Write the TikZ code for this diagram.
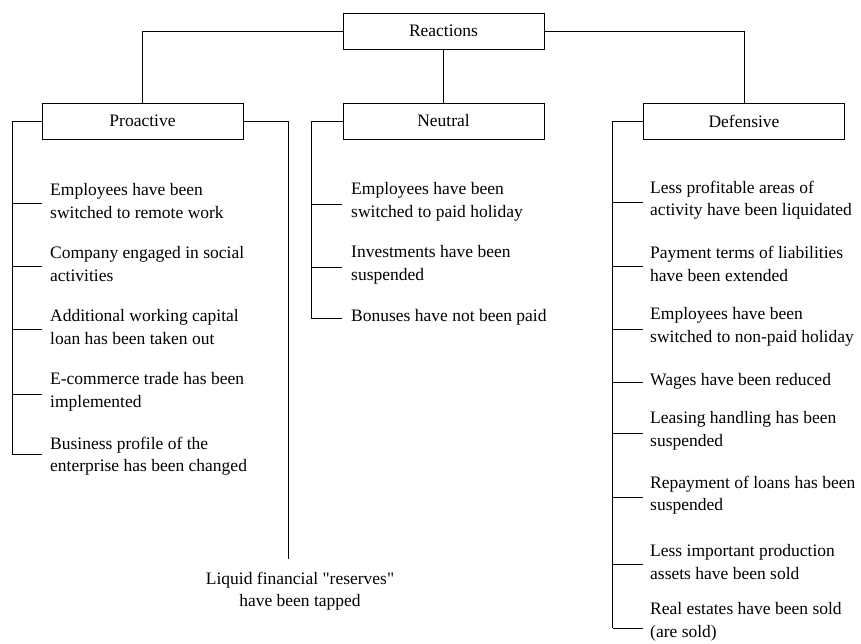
\documentclass[tikz,border=0pt]{standalone}
\usepackage{fontspec}
\setmainfont{Liberation Serif}
\newfontfamily\plainserif{Liberation Serif}
\begin{document}
\begin{tikzpicture}[x=1pt,y=-1pt,
  every node/.style={font=\fontsize{17.5}{22.5}\selectfont},
  box/.style={draw, line width=0.8pt, minimum width=201pt, minimum height=36pt, inner sep=0pt},
  item/.style={anchor=west, align=left, inner sep=0pt},
  conn/.style={line width=0.8pt}]
\useasboundingbox (0,0) rectangle (861,643);
\node[box] (R) at (443.5,31) {Reactions};
\node[box] (P) at (142.5,121) {Proactive};
\node[box] (N) at (443.5,121) {Neutral};
\node[box] (D) at (744,121) {Defensive};
\draw[conn] (R.west) -| (P.north);
\draw[conn] (R.south) -- (N.north);
\draw[conn] (R.east) -| (D.north);
% Proactive
\node[item] (p1) at (50,201) {Employees have been\\switched to remote work};
\node[item] (p2) at (50,264) {Company engaged in social\\activities};
\node[item] (p3) at (50,327) {Additional working capital\\loan has been taken out};
\node[item] (p4) at (50,392) {E-commerce trade has been\\implemented};
\node[item] (p5) at (50,456) {Business profile of the\\enterprise has been changed};
\coordinate (pv) at (12,454);
\draw[conn] (P.west) -| (pv);
\foreach \n/\y in {p1/203,p2/266,p3/329,p4/394,p5/454}{
  \draw[conn] (12,\y) -- ([xshift=-8pt]\n.west |- 0,\y);
}
% Liquid reserves
\coordinate (lq) at (288,559);
\node[align=center, inner sep=0pt, font=\plainserif\fontsize{17.5}{22.5}\selectfont] (L) at (300,591) {Liquid financial "reserves"\\have been tapped};
\draw[conn] (P.east) -| (lq);
% Neutral
\node[item] (n1) at (351,202) {Employees have been\\switched to paid holiday};
\node[item] (n2) at (351,265) {Investments have been\\suspended};
\node[item] (n3) at (351,317) {Bonuses have not been paid};
\coordinate (nv) at (311,318);
\draw[conn] (N.west) -| (nv);
\foreach \n/\y in {n1/204,n2/267,n3/318}{
  \draw[conn] (311,\y) -- ([xshift=-9pt]\n.west |- 0,\y);
}
% Defensive
\node[item] (d1) at (650,200) {Less profitable areas of\\activity have been liquidated};
\node[item] (d2) at (650,264) {Payment terms of liabilities\\have been extended};
\node[item] (d3) at (650,327) {Employees have been\\switched to non-paid holiday};
\node[item] (d4) at (650,381) {Wages have been reduced};
\node[item] (d5) at (650,431) {Leasing handling has been\\suspended};
\node[item] (d6) at (650,495) {Repayment of loans has been\\suspended};
\node[item] (d7) at (650,562) {Less important production\\assets have been sold};
\node[item] (d8) at (650,622) {Real estates have been sold\\(are sold)};
\coordinate (dv) at (612.5,628);
\draw[conn] (D.west) -| (dv);
\foreach \n/\y in {d1/202,d2/266,d3/329,d4/382,d5/433,d6/497,d7/564,d8/628}{
  \draw[conn] (612.5,\y) -- ([xshift=-7pt]\n.west |- 0,\y);
}
\end{tikzpicture}
\end{document}
